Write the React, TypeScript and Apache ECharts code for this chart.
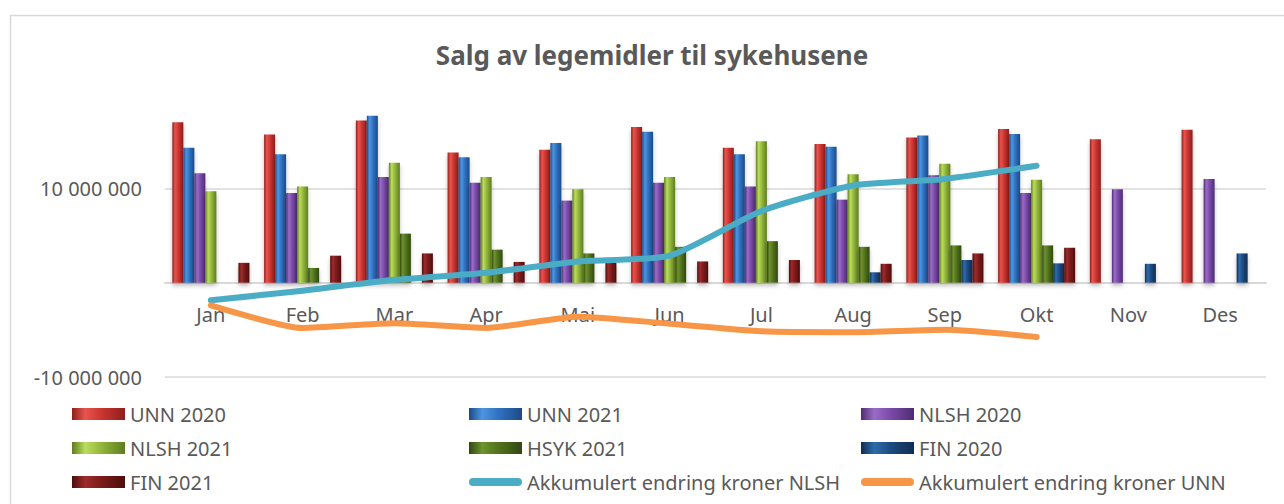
import React, { useEffect, useRef } from "react";
import * as echarts from "echarts";

const months = ["Jan", "Feb", "Mar", "Apr", "Mai", "Jun", "Jul", "Aug", "Sep", "Okt", "Nov", "Des"];

const unn2020 = [17000000, 15700000, 17200000, 13800000, 14100000, 16500000, 14300000, 14700000, 15400000, 16300000, 15200000, 16200000];
const unn2021 = [14300000, 13600000, 17700000, 13300000, 14800000, 16000000, 13600000, 14400000, 15600000, 15750000, null, null];
const nlsh2020 = [11600000, 9500000, 11200000, 10600000, 8700000, 10600000, 10200000, 8800000, 11400000, 9500000, 9900000, 11000000];
const nlsh2021 = [9700000, 10200000, 12700000, 11200000, 9900000, 11200000, 15000000, 11500000, 12600000, 10900000, null, null];
const hsyk2021 = [null, 1560000, 5200000, 3500000, 3100000, 3800000, 4400000, 3800000, 3950000, 3950000, null, null];
const fin2020 = [null, null, null, null, null, null, null, 1100000, 2400000, 2050000, 2000000, 3100000];
const fin2021 = [2100000, 2860000, 3100000, 2200000, 2100000, 2250000, 2400000, 2000000, 3100000, 3700000, null, null];
const akkNlsh = [-1870000, -850000, 300000, 1050000, 2250000, 2860000, 7600000, 10300000, 11000000, 12400000, null, null];
const akkUnn = [-2400000, -4800000, -4300000, -4800000, -3600000, -4350000, -5150000, -5250000, -5000000, -5750000, null, null];

const yShownTicks = [10000000, -10000000];

const FONT = "'Noto Sans', sans-serif";
const TXT = "#595959";

const GRID_TOP = 94;
const GRID_BOTTOM = 127;
const Y_MIN = -10000000;
const Y_MAX = 20000000;

function grad(light: string, mid: string, dark: string) {
  return new echarts.graphic.LinearGradient(0, 0, 1, 0, [
    { offset: 0, color: dark },
    { offset: 0.25, color: light },
    { offset: 0.55, color: mid },
    { offset: 1, color: dark },
  ]);
}

function fmt(v: number) {
  const s = Math.abs(v).toString().replace(/\B(?=(\d{3})+(?!\d))/g, " ");
  return (v < 0 ? "-" : "") + s;
}

const LINE_ICON = "path://M4,0 H49 A4,4 0 0 1 49,8 H4 A4,4 0 0 1 4,0 Z";

export default function App() {
  const ref = useRef<HTMLDivElement>(null);
  useEffect(() => {
    if (!ref.current) return;
    const chart = echarts.init(ref.current, undefined, { renderer: "svg" });

    const plotH = 504 - GRID_TOP - GRID_BOTTOM;
    const zeroOffset = -(plotH * (0 - Y_MIN)) / (Y_MAX - Y_MIN);

    const barDefs = [
      { name: "UNN 2020", data: unn2020, c: ["#e8544f", "#cc3531", "#8e1f1c"] },
      { name: "UNN 2021", data: unn2021, c: ["#4e95e0", "#3072c2", "#1d4a86"] },
      { name: "NLSH 2020", data: nlsh2020, c: ["#9a6cc8", "#7a4ba8", "#4f2d72"] },
      { name: "NLSH 2021", data: nlsh2021, c: ["#bbdc5e", "#93b63c", "#5f7d1f"] },
      { name: "HSYK 2021", data: hsyk2021, c: ["#6f922e", "#52731d", "#324810"] },
      { name: "FIN 2020", data: fin2020, c: ["#306baa", "#1d4b82", "#0f2d52"] },
      { name: "FIN 2021", data: fin2021, c: ["#9e2c2c", "#7c1b1b", "#4e0d0d"] },
    ];

    const series: any[] = barDefs.map((b) => ({
      name: b.name,
      type: "bar",
      data: b.data,
      barGap: "0%",
      barCategoryGap: "16%",
      itemStyle: {
        color: grad(b.c[0], b.c[1], b.c[2]),
        shadowColor: "rgba(0,0,0,0.25)",
        shadowBlur: 4,
        shadowOffsetY: 3,
      },
      z: 2,
    }));

    series.push(
      {
        name: "Akkumulert endring kroner NLSH",
        type: "line",
        data: akkNlsh,
        symbol: "none",
        smooth: 0.2,
        lineStyle: { color: "#4bacc6", width: 6, cap: "round", join: "round" },
        itemStyle: { color: "#4bacc6" },
        z: 5,
      },
      {
        name: "Akkumulert endring kroner UNN",
        type: "line",
        data: akkUnn,
        symbol: "none",
        smooth: 0.2,
        lineStyle: { color: "#f79646", width: 6, cap: "round", join: "round" },
        itemStyle: { color: "#f79646" },
        z: 5,
      }
    );

    const legendBase = {
      orient: "vertical",
      top: 399,
      itemWidth: 53,
      itemHeight: 12,
      itemGap: 14,
      textStyle: { fontSize: 20, color: TXT, fontFamily: FONT },
      selectedMode: false,
    };

    chart.setOption({
      animation: false,
      textStyle: { fontFamily: FONT },
      graphic: [
        {
          type: "rect",
          shape: { x: 10.5, y: 15.5, width: 1400, height: 700 },
          style: { fill: "none", stroke: "#d9d9d9", lineWidth: 1.5 },
          silent: true,
          z: -10,
        },
        {
          type: "text",
          x: 652,
          y: 55,
          style: {
            text: "Salg av legemidler til sykehusene",
            fill: TXT,
            font: `bold 26px ${FONT}`,
            textAlign: "center",
            textVerticalAlign: "middle",
          },
        },
      ],
      grid: { left: 165, right: 18, top: GRID_TOP, bottom: GRID_BOTTOM },
      legend: [
        { ...legendBase, left: 67, data: [
          { name: "UNN 2020", icon: "rect" },
          { name: "NLSH 2021", icon: "rect" },
          { name: "FIN 2021", icon: "rect" },
        ] },
        { ...legendBase, left: 464, data: [
          { name: "UNN 2021", icon: "rect" },
          { name: "HSYK 2021", icon: "rect" },
          { name: "Akkumulert endring kroner NLSH", icon: LINE_ICON },
        ] },
        { ...legendBase, left: 856, data: [
          { name: "NLSH 2020", icon: "rect" },
          { name: "FIN 2020", icon: "rect" },
          { name: "Akkumulert endring kroner UNN", icon: LINE_ICON },
        ] },
      ],
      xAxis: {
        type: "category",
        data: months,
        offset: zeroOffset,
        axisLine: { onZero: false, lineStyle: { color: "#d9d9d9", width: 2 } },
        axisTick: { show: false },
        axisLabel: { color: TXT, fontSize: 20, fontFamily: FONT, margin: 22 },
      },
      yAxis: {
        type: "value",
        min: Y_MIN,
        max: Y_MAX,
        interval: 10000000,
        axisLine: { show: false },
        axisTick: { show: false },
        axisLabel: {
          color: TXT,
          fontSize: 20,
          fontFamily: FONT,
          margin: 23,
          formatter: (v: number) => (yShownTicks.includes(v) ? fmt(v) : ""),
        },
        splitLine: {
          lineStyle: { color: ["#d9d9d9", "#d9d9d9", "#d9d9d9", "rgba(0,0,0,0)"], width: 1.5 },
        },
      },
      series,
    });
    return () => chart.dispose();
  }, []);
  return (
    <div
      ref={ref}
      style={{ position: "fixed", left: 0, top: 0, width: 1284, height: 504, background: "#fff" }}
    />
  );
}
